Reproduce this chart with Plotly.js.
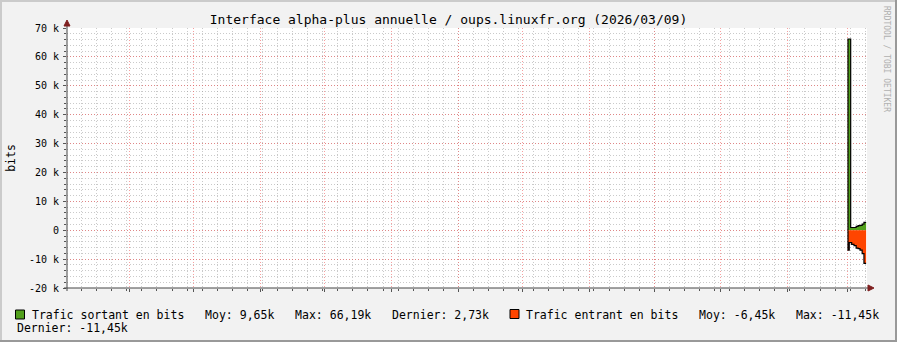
<!DOCTYPE html>
<html>
<head>
<meta charset="utf-8">
<script src="https://cdn.plot.ly/plotly-3.0.1.min.js"></script>
<style>html,body{margin:0;padding:0;background:#F2F2F2;}#chart{width:897px;height:342px;}</style>
</head>
<body>
<div id="chart"></div>
<script>
// ---- data ----
const sampleDates = ['2026-03-01 00:00','2026-03-01 14:00','2026-03-02 06:00','2026-03-02 17:00','2026-03-03 19:00','2026-03-04 19:00','2026-03-05 17:00','2026-03-06 14:00','2026-03-07 14:00','2026-03-08 10:00'];
const lastSampleEnd = '2026-03-09 10:00';
const outBits = [66190, 66190, 940, 940, 940, 1300, 1600, 1650, 2100, 2730];
const inBits = [-6900, -4300, -4300, -4900, -5300, -6200, -6400, -6900, -8100, -11450];

const monthStarts = ['2025-03-01','2025-04-01','2025-05-01','2025-06-01','2025-07-01','2025-08-01','2025-09-01','2025-10-01','2025-11-01','2025-12-01','2026-01-01','2026-02-01','2026-03-01'];
const monthLabels = ["mars '25","avril '25","mai '25","juin '25","juil. '25","ao\u00fbt '25","sept. '25","oct. '25","nov. '25","d\u00e9c. '25","janv. '26","f\u00e9vr. '26"];
const yTickVals = [70000, 60000, 50000, 40000, 30000, 20000, 10000, 0, -10000, -20000];
const yTickText = ['70 k','60 k','50 k','40 k','30 k','20 k','10 k','0','-10 k','-20 k'];
const xRange = ['2025-03-03 04:48', '2026-03-09 19:55'];
const yRange = [-20000, 70000];
const weekStart = '2025-03-03';

const titleText = 'Interface alpha-plus annuelle / oups.linuxfr.org (2026/03/09)';
const legendOut = 'Trafic sortant en bits   Moy: 9,65k   Max: 66,19k   Dernier: 2,73k';
const legendIn = 'Trafic entrant en bits   Moy: -6,45k   Max: -11,45k';
const legendIn2 = 'Dernier: -11,45k';

// ---- helpers ----
const DAY = 86400000;
function ms(s){ s = s.length === 10 ? s + 'T00:00:00' : s.replace(' ', 'T') + ':00'; return Date.parse(s + 'Z'); }
const nb = t => t.replace(/ /g, '\u00a0');
const L = 67, R = 867, T = 28, B = 288;
const px = x => (x - L) / (R - L);
const py = y => (B - y) / (B - T);

const GREEN = '#52A01C', ORANGE = '#FF4500';

function stepTrace(vals, color){
  const xs = [ms(sampleDates[0])].concat(sampleDates.map(ms), [ms(lastSampleEnd)]);
  const ys = [0].concat(vals, [vals[vals.length-1]]);
  return {x: xs, y: ys, type: 'scatter', mode: 'lines', line: {shape: 'hv', color: '#000', width: 1.2},
          fill: 'tozeroy', fillcolor: color, hoverinfo: 'skip'};
}

const traces = [stepTrace(outBits, GREEN), stepTrace(inBits, ORANGE)];

const RED_GRID = 'rgba(240,80,80,0.55)';
const GRAY_GRID = 'rgba(150,150,150,0.5)';
const DASH = '1px,2px';
const rangeMs = xRange.map(ms);

const layout = {
  width: 897, height: 342,
  paper_bgcolor: '#F2F2F2', plot_bgcolor: '#FFFFFF',
  margin: {l: L, r: 897 - R, t: T, b: 342 - B, pad: 0},
  showlegend: false,
  font: {family: 'DejaVu Sans Mono', size: 10, color: '#000'},
  title: {text: titleText, font: {family: 'DejaVu Sans Mono', size: 13, color: '#000'},
          x: 0.5, xanchor: 'center', y: 1 - 19/342, yanchor: 'middle'},
  xaxis: {type: 'date', range: rangeMs, tickmode: 'array', tickvals: monthStarts.map(ms),
          showticklabels: false, showgrid: true, gridcolor: RED_GRID, griddash: DASH, gridwidth: 1,
          ticks: 'outside', ticklen: 3, tickcolor: '#555', zeroline: false, showline: false, fixedrange: true,
          minor: {tickmode: 'linear', tick0: ms(weekStart), dtick: 7*DAY, showgrid: true, gridcolor: GRAY_GRID,
                  griddash: DASH, gridwidth: 1, ticks: 'outside', ticklen: 2, tickcolor: '#555'}},
  xaxis2: {type: 'date', overlaying: 'x', anchor: 'y', side: 'bottom', range: rangeMs, tickmode: 'array',
           tickvals: monthStarts.slice(0, monthLabels.length).map(s => ms(s) + 15.5*DAY), ticktext: monthLabels,
           showgrid: false, ticks: '', zeroline: false, showline: false, fixedrange: true,
           tickfont: {family: 'DejaVu Sans Mono', size: 10, color: '#000'}},
  yaxis: {range: yRange, tickmode: 'array', tickvals: yTickVals, ticktext: yTickText,
          showgrid: true, gridcolor: RED_GRID, griddash: DASH, gridwidth: 1,
          ticks: 'outside', ticklen: 3, tickcolor: '#555', zeroline: false, showline: false, fixedrange: true,
          ticklabelstandoff: 2,
          minor: {tickmode: 'linear', tick0: 0, dtick: 2000, showgrid: true, gridcolor: GRAY_GRID, griddash: DASH,
                  gridwidth: 1, ticks: 'outside', ticklen: 2, tickcolor: '#555'},
          title: {text: 'bits', font: {family: 'DejaVu Sans Mono', size: 11.5, color: '#000'}, standoff: 10}},
  shapes: [
    // axis lines with arrows
    {type: 'line', xref: 'paper', yref: 'paper', x0: px(64), x1: px(869), y0: py(288), y1: py(288), line: {color: '#444', width: 1}, layer: 'above'},
    {type: 'line', xref: 'paper', yref: 'paper', x0: px(67), x1: px(67), y0: py(291), y1: py(24), line: {color: '#444', width: 1}, layer: 'above'},
    {type: 'path', xref: 'paper', yref: 'paper', path: `M ${px(868)} ${py(285)} L ${px(874)} ${py(288)} L ${px(868)} ${py(291)} Z`, fillcolor: '#7F1F1F', line: {color: '#7F1F1F', width: 1}, layer: 'above'},
    {type: 'path', xref: 'paper', yref: 'paper', path: `M ${px(64)} ${py(26)} L ${px(67)} ${py(20)} L ${px(70)} ${py(26)} Z`, fillcolor: '#7F1F1F', line: {color: '#7F1F1F', width: 1}, layer: 'above'},
    // legend squares
    {type: 'rect', xref: 'paper', yref: 'paper', x0: px(15.5), x1: px(24.5), y0: py(310), y1: py(319), fillcolor: GREEN, line: {color: '#000', width: 1}},
    {type: 'rect', xref: 'paper', yref: 'paper', x0: px(510), x1: px(519), y0: py(309.5), y1: py(318.5), fillcolor: ORANGE, line: {color: '#000', width: 1}},
    // frame
    {type: 'rect', xref: 'paper', yref: 'paper', x0: px(0), x1: px(897), y0: py(0), y1: py(2), fillcolor: '#CBCBCB', line: {width: 0}, layer: 'above'},
    {type: 'rect', xref: 'paper', yref: 'paper', x0: px(0), x1: px(2), y0: py(0), y1: py(342), fillcolor: '#CBCBCB', line: {width: 0}, layer: 'above'},
    {type: 'rect', xref: 'paper', yref: 'paper', x0: px(0), x1: px(897), y0: py(340), y1: py(342), fillcolor: '#999999', line: {width: 0}, layer: 'above'},
    {type: 'rect', xref: 'paper', yref: 'paper', x0: px(895), x1: px(897), y0: py(0), y1: py(342), fillcolor: '#999999', line: {width: 0}, layer: 'above'}
  ],
  annotations: [
    {xref: 'paper', yref: 'paper', x: px(30.5), y: py(314.5), xanchor: 'left', yanchor: 'middle', showarrow: false, borderpad: 0,
     text: nb(legendOut), font: {family: 'DejaVu Sans Mono', size: 11.5, color: '#000'}},
    {xref: 'paper', yref: 'paper', x: px(525), y: py(314.5), xanchor: 'left', yanchor: 'middle', showarrow: false, borderpad: 0,
     text: nb(legendIn), font: {family: 'DejaVu Sans Mono', size: 11.5, color: '#000'}},
    {xref: 'paper', yref: 'paper', x: px(16), y: py(328), xanchor: 'left', yanchor: 'middle', showarrow: false, borderpad: 0,
     text: nb(legendIn2), font: {family: 'DejaVu Sans Mono', size: 11.5, color: '#000'}},
    {xref: 'paper', yref: 'paper', x: px(887), y: py(59), xanchor: 'center', yanchor: 'middle', showarrow: false, borderpad: 0,
     textangle: 90, text: 'RRDTOOL / TOBI OETIKER', font: {family: 'DejaVu Sans Mono', size: 8, color: '#B0B0B0'}}
  ]
};

Plotly.newPlot('chart', traces, layout, {displayModeBar: false, staticPlot: true});
</script>
</body>
</html>
